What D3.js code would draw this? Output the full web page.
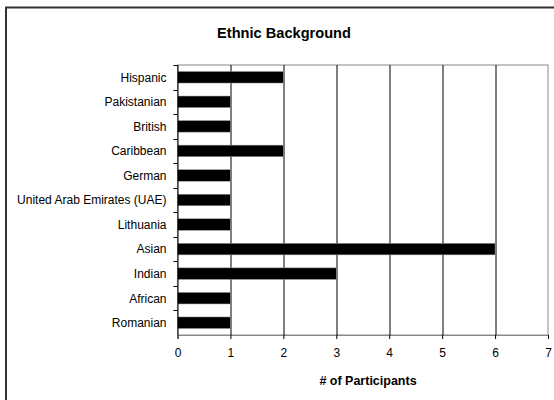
<!DOCTYPE html>
<html>
<head>
<meta charset="utf-8">
<script src="https://cdn.jsdelivr.net/npm/d3@7"></script>
<style>
  body { margin: 0; background: #fff; }
  svg { display: block; font-family: Arial, "Liberation Sans", sans-serif; }
</style>
</head>
<body>
<div id="chart"></div>
<script>
'use strict';
// data, top to bottom as shown
var categories = ['Hispanic', 'Pakistanian', 'British', 'Caribbean', 'German',
  'United Arab Emirates (UAE)', 'Lithuania', 'Asian', 'Indian', 'African', 'Romanian'];
var participants = [2, 1, 1, 2, 1, 1, 1, 6, 3, 1, 1];
var xTicks = [0, 1, 2, 3, 4, 5, 6, 7];

var width = 554, height = 400;
var margin = {top: 65, right: 6, bottom: 65, left: 177.5};
var plotW = 548 - margin.left, plotH = 335 - margin.top;

var svg = d3.select('#chart').append('svg')
  .attr('width', width)
  .attr('height', height);

// outer chart border (runs off the right/bottom edge)
svg.append('rect')
  .attr('x', 6).attr('y', 7.5)
  .attr('width', 560).attr('height', 400)
  .attr('fill', 'none')
  .attr('stroke', '#333')
  .attr('stroke-width', 2);

svg.append('text')
  .attr('x', 284).attr('y', 37.5)
  .attr('text-anchor', 'middle')
  .style('font-size', '14.6px')
  .style('font-weight', 'bold')
  .text('Ethnic Background');

var g = svg.append('g')
  .attr('transform', 'translate(' + margin.left + ',' + margin.top + ')');

var x = d3.scaleLinear().domain([0, 7]).range([0, plotW]);
var y = d3.scaleBand().domain(categories).range([0, plotH]).paddingInner(0.53).paddingOuter(0.265);
var yBand = d3.scaleBand().domain(categories).range([0, plotH]);

// plot frame (gray)
g.append('rect')
  .attr('width', plotW).attr('height', plotH)
  .attr('fill', 'none')
  .attr('stroke', '#888')
  .attr('stroke-width', 1);

// vertical gridlines
g.selectAll('.grid')
  .data(xTicks.slice(1, -1))
  .enter().append('line')
  .attr('class', 'grid')
  .attr('x1', function(d) { return Math.round(x(d)) + 0.5; })
  .attr('x2', function(d) { return Math.round(x(d)) + 0.5; })
  .attr('y1', 0).attr('y2', plotH)
  .attr('stroke', '#000');

// bars
g.selectAll('.bar')
  .data(participants)
  .enter().append('rect')
  .attr('class', 'bar')
  .attr('x', x(0))
  .attr('y', function(d, i) { return y(categories[i]); })
  .attr('width', function(d) { return x(d) - x(0); })
  .attr('height', y.bandwidth())
  .attr('fill', '#000')
  .attr('stroke', '#999')
  .attr('stroke-width', 0.5);

// x axis
var xAxis = g.append('g')
  .attr('transform', 'translate(0,' + plotH + ')')
  .call(d3.axisBottom(x).tickValues(xTicks).tickFormat(d3.format('d')).tickSize(4).tickPadding(9));
xAxis.select('.domain').attr('stroke', '#888');
xAxis.selectAll('.tick line').attr('stroke', '#000');
xAxis.selectAll('text').style('font-size', '12px').attr('fill', '#000');

// y axis: ticks at band boundaries, labels centred in bands
var yAxis = g.append('g');
yAxis.append('line')
  .attr('x1', 0.5).attr('x2', 0.5)
  .attr('y1', 0).attr('y2', plotH)
  .attr('stroke', '#000');
yAxis.selectAll('.ytick')
  .data(categories)
  .enter().append('line')
  .attr('class', 'ytick')
  .attr('x1', -4).attr('x2', 0)
  .attr('y1', function(d) { return Math.round(yBand(d)) + 0.5; })
  .attr('y2', function(d) { return Math.round(yBand(d)) + 0.5; })
  .attr('stroke', '#000');
yAxis.selectAll('.ylabel')
  .data(categories)
  .enter().append('text')
  .attr('class', 'ylabel')
  .attr('x', -11)
  .attr('y', function(d) { return yBand(d) + yBand.bandwidth() / 2; })
  .attr('dy', '0.36em')
  .attr('text-anchor', 'end')
  .style('font-size', '12px')
  .text(function(d) { return d; });

svg.append('text')
  .attr('x', 368).attr('y', 384.5)
  .attr('text-anchor', 'middle')
  .style('font-size', '12.5px')
  .style('font-weight', 'bold')
  .text('# of Participants');
</script>
</body>
</html>
